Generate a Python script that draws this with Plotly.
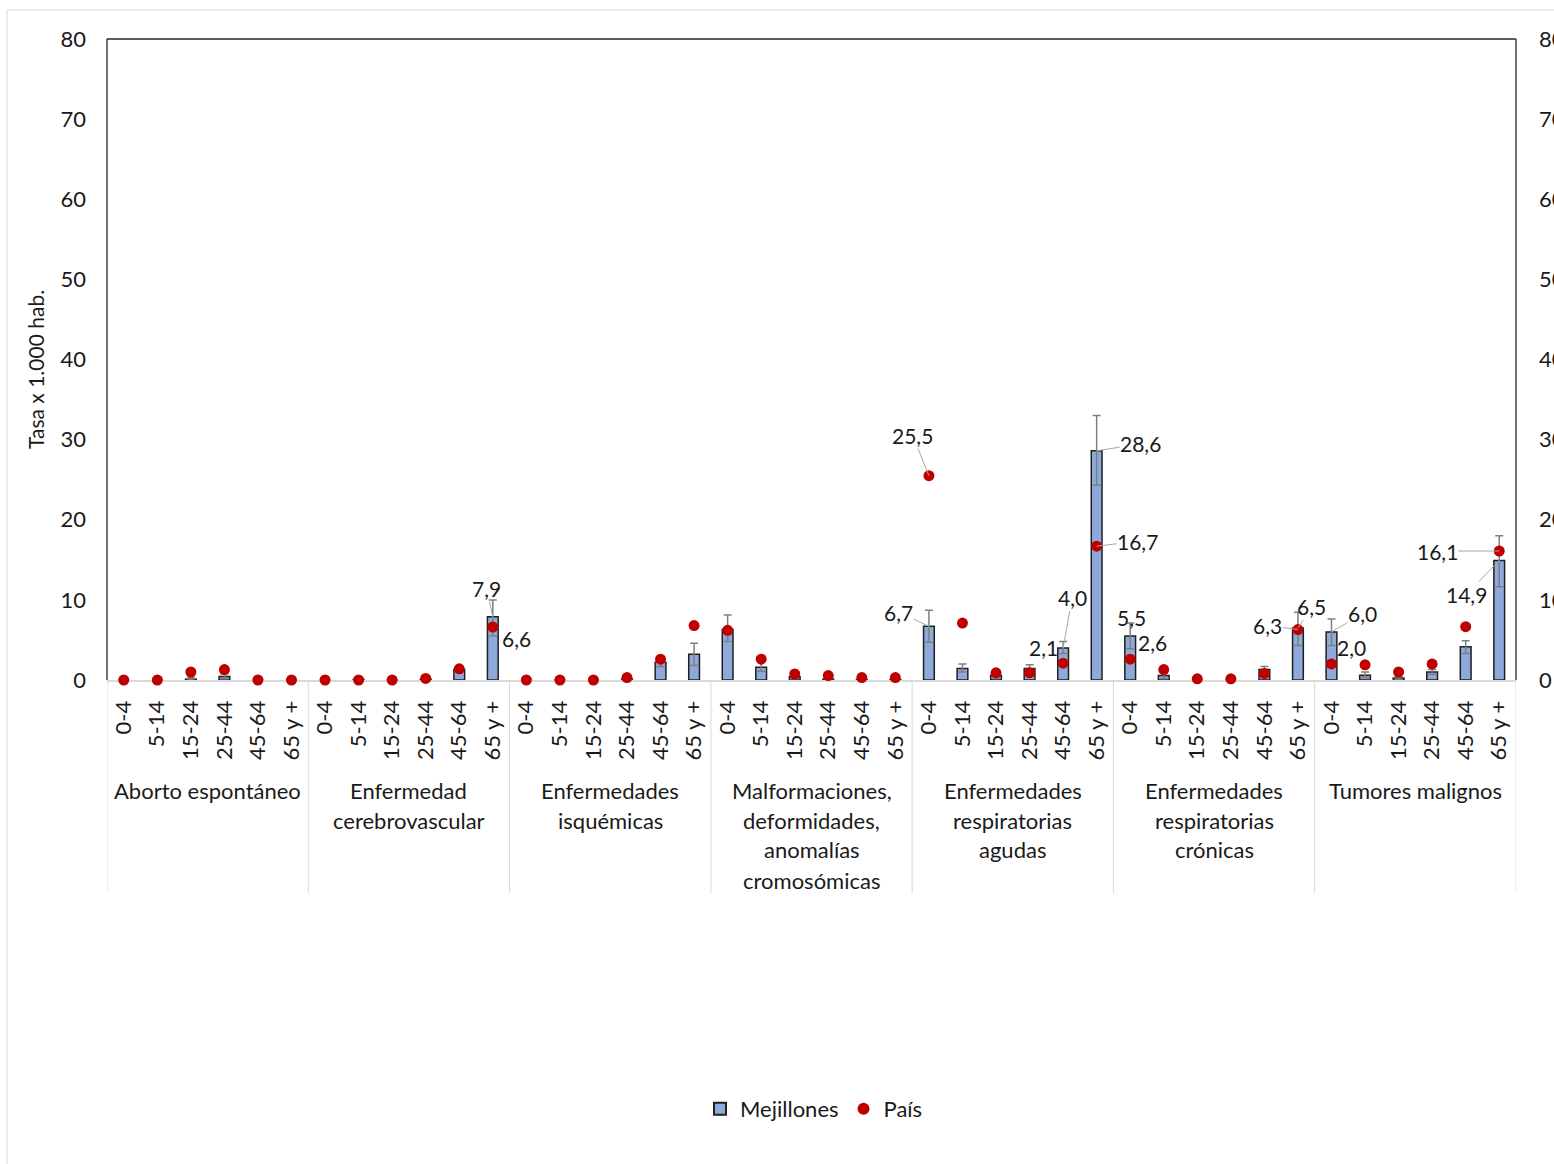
import plotly.graph_objects as go

# Age bands repeated inside each cause of death
ages = ["0-4", "5-14", "15-24", "25-44", "45-64", "65 y +"]

# Cause groups (label lines as drawn under the axis)
group_lines = [
    ["Aborto espontáneo"],
    ["Enfermedad", "cerebrovascular"],
    ["Enfermedades", "isquémicas"],
    ["Malformaciones,", "deformidades,", "anomalías", "cromosómicas"],
    ["Enfermedades", "respiratorias", "agudas"],
    ["Enfermedades", "respiratorias", "crónicas"],
    ["Tumores malignos"],
]

# Rates per 1,000 inhabitants
mejillones = [
    0.0, 0.0, 0.1, 0.45, 0.0, 0.0,
    0.0, 0.05, 0.0, 0.1, 1.3, 7.9,
    0.0, 0.0, 0.0, 0.1, 2.2, 3.2,
    6.3, 1.6, 0.4, 0.1, 0.05, 0.05,
    6.7, 1.45, 0.55, 1.45, 4.0, 28.6,
    5.5, 0.55, 0.0, 0.0, 1.3, 6.5,
    6.0, 0.6, 0.25, 1.0, 4.15, 14.9,
]
pais = [
    0.0, 0.0, 1.0, 1.3, 0.0, 0.0,
    0.0, 0.0, 0.0, 0.2, 1.4, 6.6,
    0.0, 0.0, 0.0, 0.3, 2.6, 6.8,
    6.2, 2.6, 0.75, 0.55, 0.3, 0.3,
    25.5, 7.1, 0.9, 0.9, 2.1, 16.7,
    2.6, 1.3, 0.15, 0.15, 0.8, 6.3,
    2.0, 1.9, 1.0, 2.0, 6.65, 16.1,
]
# Confidence interval half-widths for Mejillones
err_hi = [
    0, 0, 0.2, 0.3, 0, 0,
    0, 0, 0, 0, 0.2, 2.1,
    0, 0, 0, 0, 0.4, 1.4,
    1.8, 0.6, 0.2, 0, 0, 0,
    2.0, 0.55, 0.2, 0.45, 0.8, 4.4,
    1.6, 0.3, 0, 0, 0.4, 1.95,
    1.6, 0.4, 0.15, 0.3, 0.75, 3.1,
]
err_lo = [
    0, 0, 0.1, 0.3, 0, 0,
    0, 0, 0, 0, 0.2, 2.4,
    0, 0, 0, 0, 0.5, 1.4,
    1.5, 0.5, 0.2, 0, 0, 0,
    2.0, 0.45, 0.3, 0.45, 0.7, 4.3,
    1.6, 0.35, 0, 0, 0.4, 2.2,
    1.7, 0.3, 0.15, 0.3, 0.85, 3.25,
]

# Value labels: (series, index, x offset px, y offset px, leader line)
value_labels = [
    ("m", 11, -6, -28, True),
    ("p", 11, 24, 11, False),
    ("p", 24, -16, -40, True),
    ("m", 24, -30, -14, True),
    ("m", 29, 44, -7, True),
    ("p", 29, 41, -5, True),
    ("m", 28, 9, -50, True),
    ("p", 28, -20, -16, False),
    ("m", 30, 1, -18, False),
    ("p", 30, 22, -17, False),
    ("p", 35, -30, -4, True),
    ("m", 35, 14, -21, True),
    ("m", 36, 31, -18, True),
    ("p", 36, 20, -16, False),
    ("p", 41, -62, 0, True),
    ("m", 41, -33, 34, True),
]

n_groups = len(group_lines)
n = len(ages) * n_groups
xs = list(range(n))
tick_text = ages * n_groups

FONT = "Lato"
TXT = "#1a1a1a"
FS = 22

W, H = 1554, 1164
L, R, T, B = 107, 38, 39, 484
plot_h = H - T - B
base_px = H - B


def paper_y(py):
    return (base_px - py) / plot_h


fig = go.Figure()
fig.add_trace(go.Bar(
    x=xs, y=mejillones, name="Mejillones", width=0.32,
    marker=dict(color="#8eaadb", line=dict(color="#1f1f1f", width=1.5)),
    error_y=dict(type="data", symmetric=False, array=err_hi, arrayminus=err_lo,
                 color="#7f7f7f", thickness=1.5, width=4),
    cliponaxis=False,
))
fig.add_trace(go.Scatter(
    x=xs, y=pais, name="País", mode="markers",
    marker=dict(color="#c00000", size=11),
    cliponaxis=False,
))
# right-hand axis carrier
fig.add_trace(go.Scatter(x=[0], y=[0], yaxis="y2", mode="markers",
                         marker=dict(opacity=0), showlegend=False, hoverinfo="skip"))

fmt = lambda v: f"{v:.1f}".replace(".", ",")
anns = []
for ser, i, ax, ay, lead in value_labels:
    v = mejillones[i] if ser == "m" else pais[i]
    anns.append(dict(
        x=i, y=v, xref="x", yref="y", text=fmt(v), ax=ax, ay=ay,
        showarrow=True, arrowhead=0, arrowwidth=1,
        arrowcolor="#a6a6a6" if lead else "rgba(0,0,0,0)",
        standoff=0, startstandoff=0, borderpad=0,
        font=dict(family=FONT, size=21, color=TXT),
    ))

# group titles under the age ticks
for g, lines in enumerate(group_lines):
    cx = g * 6 + 2.5
    for k, line in enumerate(lines):
        anns.append(dict(
            x=cx, y=paper_y(790 + 30 * k), xref="x", yref="paper",
            text=line, showarrow=False, xanchor="center", yanchor="middle",
            font=dict(family=FONT, size=FS, color=TXT),
        ))

# y axis title
anns.append(dict(
    x=(35 - L) / (W - L - R), y=paper_y(370), xref="paper", yref="paper",
    text="Tasa x 1.000 hab.", textangle=-90, showarrow=False,
    xanchor="center", yanchor="middle",
    font=dict(family=FONT, size=21, color=TXT),
))

shapes = []
# group separators below the axis
for g in range(n_groups + 1):
    shapes.append(dict(type="line", xref="x", yref="paper",
                       x0=g * 6 - 0.5, x1=g * 6 - 0.5, y0=0, y1=paper_y(893),
                       line=dict(color="#d9d9d9", width=1)))
# plot frame: left, top, right
for x0, y0, x1, y1 in [(0, 0, 0, 1), (0, 1, 1, 1), (1, 0, 1, 1)]:
    shapes.append(dict(type="line", xref="paper", yref="paper",
                       x0=x0, y0=y0, x1=x1, y1=y1,
                       line=dict(color="#262626", width=1.3)))
# chart outer border
pw = W - L - R
ox = (7 - L) / pw
oy = paper_y(10)
shapes.append(dict(type="line", xref="paper", yref="paper",
                   x0=ox, x1=1.2, y0=oy, y1=oy, line=dict(color="#d9d9d9", width=1)))
shapes.append(dict(type="line", xref="paper", yref="paper",
                   x0=ox, x1=ox, y0=oy, y1=-1.0, line=dict(color="#d9d9d9", width=1)))

fig.update_layout(
    width=W, height=H,
    margin=dict(l=L, r=R, t=T, b=B, autoexpand=False),
    paper_bgcolor="white", plot_bgcolor="white",
    font=dict(family=FONT, size=FS, color=TXT),
    showlegend=True,
    legend=dict(orientation="h", x=(814 - L) / pw, xanchor="center",
                y=paper_y(1109), yanchor="middle",
                font=dict(family=FONT, size=FS, color=TXT),
                itemsizing="constant", traceorder="normal",
                itemwidth=30, tracegroupgap=0),
    xaxis=dict(
        range=[-0.5, n - 0.5], tickmode="array", tickvals=xs, ticktext=tick_text,
        tickangle=-90, ticks="", showgrid=False, zeroline=False,
        showline=True, linecolor="#d9d9d9", linewidth=2,
        layer="below traces", ticklabelstandoff=10,
        tickfont=dict(family=FONT, size=FS, color=TXT),
    ),
    yaxis=dict(
        range=[0, 80], dtick=10, showgrid=False, zeroline=False, ticks="",
        showline=False, ticklabelstandoff=20,
        tickfont=dict(family=FONT, size=FS, color=TXT),
    ),
    yaxis2=dict(
        range=[0, 80], dtick=10, overlaying="y", side="right", anchor="x",
        showgrid=False, zeroline=False, ticks="", showline=False,
        ticklabelstandoff=22,
        tickfont=dict(family=FONT, size=FS, color=TXT),
    ),
    annotations=anns, shapes=shapes,
)

fig.write_html("out.html")
